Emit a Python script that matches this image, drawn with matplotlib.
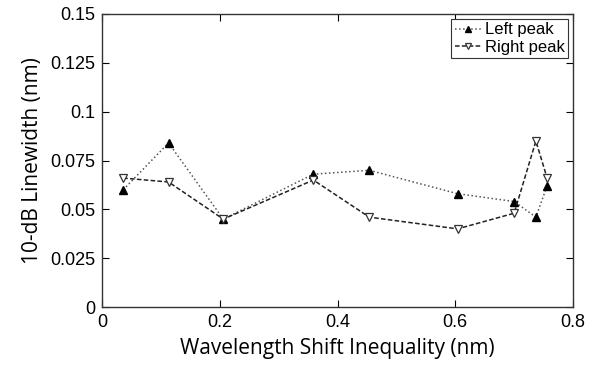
import matplotlib
matplotlib.use("Agg")
import matplotlib.pyplot as plt

x = [0.036, 0.113, 0.206, 0.359, 0.454, 0.604, 0.700, 0.737, 0.756]
left_peak = [0.060, 0.084, 0.045, 0.068, 0.070, 0.058, 0.054, 0.046, 0.062]
right_peak = [0.066, 0.064, 0.045, 0.065, 0.046, 0.040, 0.048, 0.085, 0.066]
xticks = [0, 0.2, 0.4, 0.6, 0.8]
yticks = [0, 0.025, 0.05, 0.075, 0.1, 0.125, 0.15]
ytick_labels = ["0", "0.025", "0.05", "0.075", "0.1", "0.125", "0.15"]

plt.rcParams['font.family'] = ['Liberation Sans', 'DejaVu Sans']
fig = plt.figure(figsize=(5.98, 3.69), dpi=100)
ax = fig.add_axes([102/598, 1-307/369, (573-102)/598, (307-14)/369])

ax.plot(x, left_peak, linestyle=':', color='#555555', linewidth=1.1,
        marker='^', markersize=5.5, markerfacecolor='black', markeredgecolor='black',
        label='Left peak')
ax.plot(x, right_peak, linestyle='--', color='#222222', linewidth=1.1, dashes=(3, 1.5),
        marker='v', markersize=6, markerfacecolor='white', markeredgecolor='#333333',
        markeredgewidth=0.9, label='Right peak')

ax.set_xlim(0, 0.8)
ax.set_ylim(0, 0.15)
ax.set_xticks(xticks)
ax.set_xticklabels([f"{t:g}" for t in xticks])
ax.set_yticks(yticks)
ax.set_yticklabels(ytick_labels)
ax.tick_params(direction='in', top=True, right=True, labelsize=13, length=5, pad=5)
for s in ax.spines.values():
    s.set_linewidth(1.0)
    s.set_color('#333333')
ax.set_xlabel('Wavelength Shift Inequality (nm)', fontsize=15, labelpad=5,
              family=['Open Sans', 'DejaVu Sans'])
ax.set_ylabel('10-dB Linewidth (nm)', fontsize=15, labelpad=5,
              family=['Open Sans', 'DejaVu Sans'])

leg = ax.legend(loc='upper right', fontsize=12, handlelength=1.6, handletextpad=0.2,
                borderpad=0.2, labelspacing=0.15, fancybox=False, framealpha=1,
                borderaxespad=0.3, markerscale=0.7)
leg.get_frame().set_edgecolor('#333333')
leg.get_frame().set_linewidth(0.8)

fig.savefig('out.png', dpi=100)
